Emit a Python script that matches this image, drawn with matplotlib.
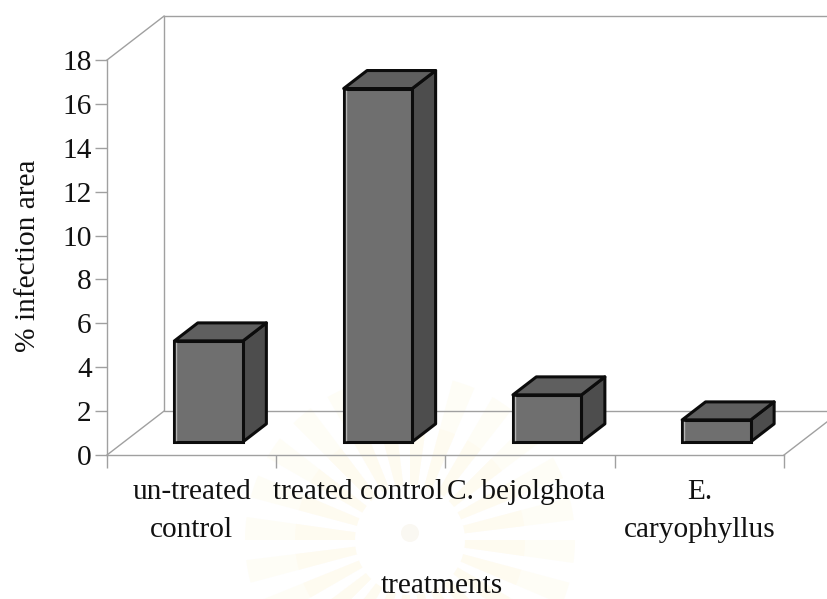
"""3-D style column chart of % infection area per treatment."""
import numpy as np
import matplotlib
matplotlib.use("Agg")
import matplotlib.pyplot as plt
from matplotlib.patches import Polygon, Wedge, Circle
from matplotlib.transforms import ScaledTranslation

categories = ["un-treated\ncontrol", "treated control", "C. bejolghota", "E.\ncaryophyllus"]
infection = [4.6, 16.1, 2.14, 1.0]
y_ticks = [0, 2, 4, 6, 8, 10, 12, 14, 16, 18]
label_shift = [0, -3, -4, 0]  # pixels, labels sit a bit off the category centres

W, H = 828, 599
plt.rcParams["font.family"] = ["Liberation Serif", "DejaVu Serif"]
plt.rcParams["font.size"] = 21.2

fig = plt.figure(figsize=(W / 100, H / 100), dpi=100)

# Faint seal that shows through the scanned page
bg = fig.add_axes([0, 0, 1, 1], zorder=0)
bg.set_xlim(0, W)
bg.set_ylim(H, 0)
bg.axis("off")
for a in np.arange(0, 360, 15):
    bg.add_patch(Wedge((410, 540), 165, a, a + 8, fc="#fefdf6", ec="none"))
    bg.add_patch(Wedge((410, 540), 115, a, a + 8, fc="#fefbf0", ec="none"))
bg.add_patch(Circle((410, 540), 55, fc="white", ec="none"))
bg.add_patch(Circle((410, 533), 9, fc="#faf8f2", ec="none"))

# Front plane of the chart
x0, x1, ytop, ybot = 107, 784, 60, 455
ax = fig.add_axes([x0 / W, 1 - ybot / H, (x1 - x0) / W, (ybot - ytop) / H], zorder=1)
ax.patch.set_alpha(0)
ax.set_xlim(0, len(categories))
ax.set_ylim(0, 18)

# Depth of the box, in data units
ddx, ddy = 57 / 169.25, 2.0
front, back = 0.30, 0.71
bar_w = 0.405
grey = "#a0a0a0"

ax.plot([ddx, ddx, 4 + ddx], [18 + ddy, ddy, ddy], color=grey, lw=1, clip_on=False)
ax.plot([ddx, 4 + ddx], [18 + ddy, 18 + ddy], color=grey, lw=1, clip_on=False)
ax.plot([0, ddx], [18, 18 + ddy], color=grey, lw=1, clip_on=False)
ax.plot([0, ddx], [0, ddy], color=grey, lw=1, clip_on=False)
ax.plot([4, 4 + ddx], [0, ddy], color=grey, lw=1, clip_on=False)

edge = dict(ec="#0c0c0c", lw=2.2, joinstyle="round", clip_on=False, zorder=3)
for i, v in enumerate(infection):
    cx = i + 0.5 + front * ddx
    l, r = cx - bar_w / 2, cx + bar_w / 2
    b = front * ddy
    t = b + v
    sx, sy = (back - front) * ddx, (back - front) * ddy
    ax.add_patch(Polygon([(r, b), (r + sx, b + sy), (r + sx, t + sy), (r, t)], fc="#4d4d4d", **edge))
    ax.add_patch(Polygon([(l, t), (r, t), (r + sx, t + sy), (l + sx, t + sy)], fc="#5f5f5f", **edge))
    ax.bar(cx, v, bar_w, bottom=b, color="#6f6f6f", edgecolor="#0c0c0c", linewidth=2.2, zorder=4, clip_on=False)
    # pale inner edge of the front face
    ax.plot([l + 0.012, l + 0.012], [b + 0.1, t - 0.1], color="#b5b5b5", lw=1, zorder=5)

for s in ["top", "right"]:
    ax.spines[s].set_visible(False)
for s in ["left", "bottom"]:
    ax.spines[s].set_color(grey)
    ax.spines[s].set_linewidth(1)

ax.set_yticks(y_ticks)
ax.tick_params(axis="y", length=9, width=1, color=grey, pad=2, labelcolor="#111111")
ax.set_xticks(range(len(categories) + 1))
ax.set_xticklabels([])
ax.tick_params(axis="x", which="major", length=9, width=1, color=grey)
ax.set_xticks(np.arange(len(categories)) + 0.5, minor=True)
ax.set_xticklabels(categories, minor=True, linespacing=1.6, color="#111111")
ax.tick_params(axis="x", which="minor", length=0, pad=17)
for lab, dx in zip(ax.get_xticklabels(minor=True), label_shift):
    lab.set_transform(lab.get_transform() + ScaledTranslation(dx / 100, 0, fig.dpi_scale_trans))

ax.set_ylabel("% infection area", color="#111111", va="center")
ax.yaxis.set_label_coords(-(107 - 28) / (x1 - x0), 0.5 + (257.5 - 256) / (ybot - ytop))
ax.set_xlabel("treatments", color="#111111", va="baseline")
ax.xaxis.set_label_coords((442 - x0) / (x1 - x0), -(593 - ybot) / (ybot - ytop))

fig.savefig("out.png", dpi=100)
